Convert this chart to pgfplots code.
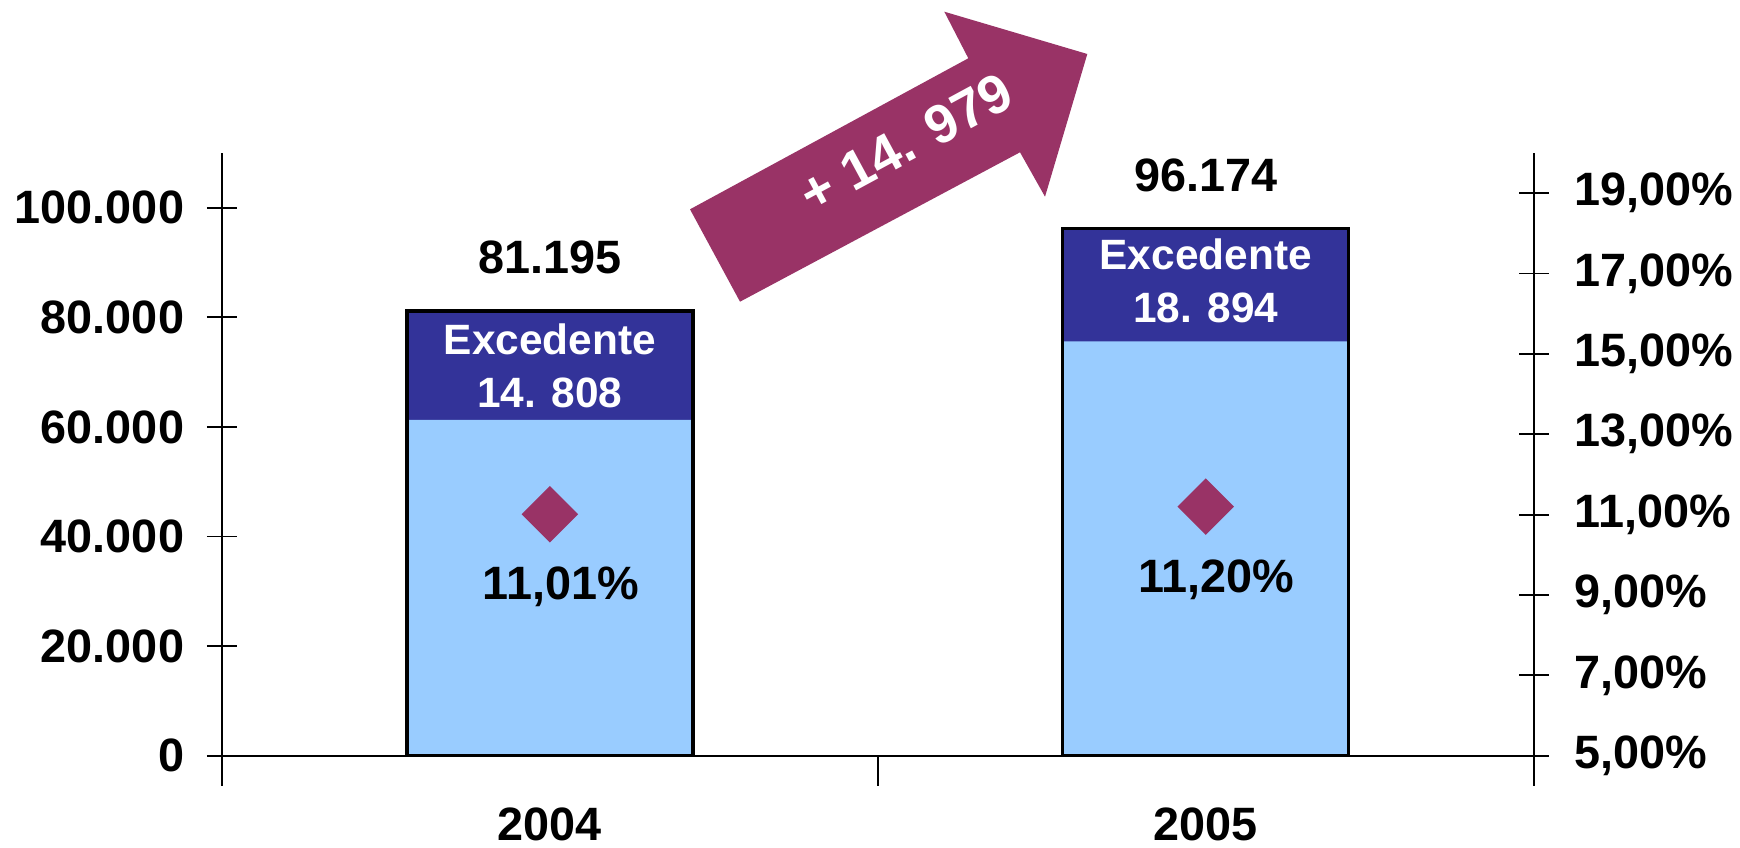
\documentclass[border=0pt]{standalone}
\usepackage{pgfplots}
\pgfplotsset{compat=1.18}
\usepackage{fontspec}
\setmainfont{Liberation Sans}
\definecolor{lightbar}{HTML}{99CCFF}
\definecolor{darkbar}{HTML}{333399}
\definecolor{plum}{HTML}{993366}
\newcommand{\bigf}{\fontsize{11.7}{14}\selectfont\bfseries}
\newcommand{\boxf}{\fontsize{10.6}{13.3}\selectfont\bfseries}
\newcommand{\arrf}{\fontsize{13.6}{16}\selectfont\bfseries}
\begin{document}
\begin{tikzpicture}
\useasboundingbox (-55.5pt,-22.825pt) rectangle (379.5pt,188.925pt);
\pgfplotsset{
  common/.style={
    at={(0pt,0pt)}, anchor=south west,
    scale only axis, width=327.9pt, height=150.675pt,
    xmin=-0.5, xmax=1.5,
    tick align=center,
    major tick length=7.5pt, minor tick length=7.5pt,
    axis line style={black, line width=0.45pt, -},
    every tick/.style={black, line width=0.45pt},
    ticklabel style={font=\bigf, text=black},
    scaled y ticks=false,
    /pgf/number format/assume math mode=true,
    clip=false,
  }
}
\begin{axis}[common,
  axis y line*=left, axis x line*=bottom,
  ymin=0, ymax=110000,
  ytick={0,20000,40000,60000,80000,100000},
  yticklabels={0,20.000,40.000,60.000,80.000,100.000},
  yticklabel style={xshift=-2.2pt},
  xtick={0,1}, xticklabels={2004,2005},
  xticklabel style={yshift=-2.0pt},
  minor xtick={-0.5,0.5,1.5},
  major x tick style={draw=none},
  ybar, bar width=71.5pt,
]
\addplot[bar shift=0pt, fill=darkbar, draw=none] coordinates {(0,81195) (1,96174)};
\addplot[bar shift=0pt, fill=lightbar, draw=none] coordinates {(0,61300) (1,75600)};
\addplot[bar shift=0pt, fill=none, draw=black, line width=0.85pt,
  nodes near coords, point meta=explicit symbolic,
  every node near coord/.append style={anchor=center, yshift=13.4pt, font=\bigf, text=black}]
  coordinates {(0,81195) [81.195] (1,96174) [96.174]};
\node[align=center, font=\boxf, text=white] at (axis cs:0,71100) {Excedente\\14. 808};
\node[align=center, font=\boxf, text=white] at (axis cs:1,86600) {Excedente\\18. 894};
\end{axis}
\begin{axis}[common,
  axis y line*=right, axis x line=none,
  ymin=5, ymax=20,
  ytick={5,7,9,11,13,15,17,19},
  yticklabels={{5,00\%},{7,00\%},{9,00\%},{11,00\%},{13,00\%},{15,00\%},{17,00\%},{19,00\%}},
  yticklabel style={xshift=3pt},
]
\addplot[only marks, mark=square*, mark size=4.8pt,
  mark options={rotate=45, fill=plum, draw=plum},
  nodes near coords, point meta=explicit symbolic,
  every node near coord/.append style={anchor=center, yshift=-18.2pt, xshift=2.7pt, font=\bigf, text=black}]
  coordinates {(0,11.01) [{11,01\%}] (1,11.20) [{11,20\%}]};
\end{axis}
\begin{scope}[x=0.25pt, y=-0.25pt, shift={(-55.5pt,188.925pt)}]
\fill[plum] (690,209.3) -- (968.3,58.3) -- (944.3,11.7) -- (1087.3,54) -- (1045,196.7) -- (1020,152.3) -- (740,301.7) -- cycle;
\node[rotate=28.4, text=white, font=\arrf, inner sep=0pt] at (906,143) {+ 14. 979};
\end{scope}
\end{tikzpicture}
\end{document}
